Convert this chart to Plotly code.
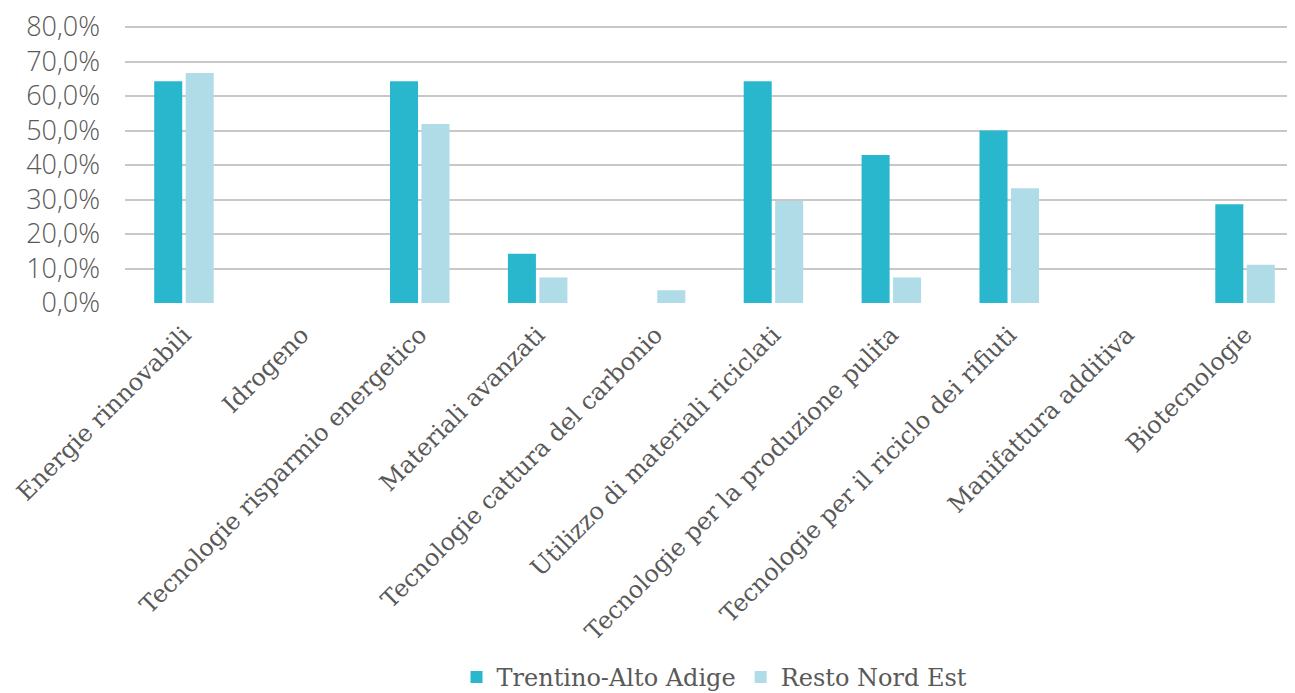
import plotly.graph_objects as go

categories = [
    "Energie rinnovabili",
    "Idrogeno",
    "Tecnologie risparmio energetico",
    "Materiali avanzati",
    "Tecnologie cattura del carbonio",
    "Utilizzo di materiali riciclati",
    "Tecnologie per la produzione pulita",
    "Tecnologie per il riciclo dei rifiuti",
    "Manifattura additiva",
    "Biotecnologie",
]
trentino = [64.3, 0.0, 64.3, 14.3, 0.0, 64.3, 42.9, 50.0, 0.0, 28.6]
resto_nord_est = [66.7, 0.0, 51.9, 7.4, 3.7, 29.6, 7.4, 33.3, 0.0, 11.1]
y_ticks = [0, 10, 20, 30, 40, 50, 60, 70, 80]
y_tick_labels = ["0,0%", "10,0%", "20,0%", "30,0%", "40,0%", "50,0%", "60,0%", "70,0%", "80,0%"]

TEXT = "#595959"

fig = go.Figure()
fig.add_trace(go.Bar(name="Trentino-Alto Adige", x=categories, y=trentino,
                     marker=dict(color="#29B7CE", line=dict(width=0))))
fig.add_trace(go.Bar(name="Resto Nord Est", x=categories, y=resto_nord_est,
                     marker=dict(color="#B0DCE8", line=dict(width=0))))

# page has an 8px body margin, so figure coordinates are offset by 8px
fig.update_layout(
    width=1300, height=693,
    margin=dict(l=116.5, r=4, t=18, b=398, autoexpand=False),
    paper_bgcolor="white", plot_bgcolor="white",
    barmode="group", bargap=0.466, bargroupgap=0.11,
    showlegend=True,
    legend=dict(orientation="h", x=0.5, xanchor="center", xref="paper",
                y=-1.352, yanchor="middle",
                font=dict(family="DejaVu Serif", size=24, color=TEXT),
                itemwidth=30, tracegroupgap=0),
    font=dict(family="Open Sans", color=TEXT),
)
fig.update_xaxes(
    type="category", range=[-0.5, 9.5], automargin=False,
    tickangle=-45,
    tickfont=dict(family="DejaVu Serif", size=24, color=TEXT),
    showgrid=False, showline=False, zeroline=False, ticks="",
    ticklabelstandoff=12,
)
fig.update_yaxes(
    range=[0, 80.3], tickvals=y_ticks, ticktext=y_tick_labels, automargin=False,
    tickfont=dict(family="Open Sans", size=27, color=TEXT, weight=300),
    showgrid=True, gridcolor="#C8C8C8", gridwidth=1.5,
    zeroline=False, showline=False, ticks="", ticklabelstandoff=24,
    ticklabeloverflow="allow",
)

fig.write_html("out.html")
